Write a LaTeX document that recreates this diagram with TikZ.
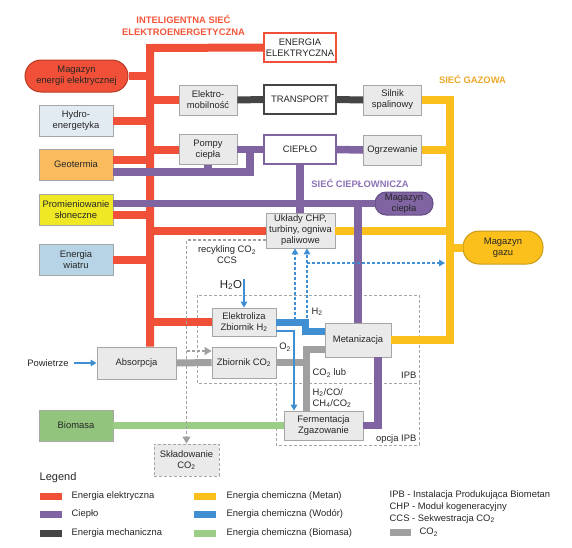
\documentclass[tikz,border=0pt]{standalone}
\usepackage{fontspec}
\setmainfont{Liberation Sans}
\usepackage{xcolor}
\usetikzlibrary{arrows.meta, positioning}

\definecolor{colEl}{HTML}{F05037}
\definecolor{colElD}{HTML}{B43A24}
\definecolor{colHeat}{HTML}{8064A2}
\definecolor{colHeatD}{HTML}{654D85}
\definecolor{colMech}{HTML}{454545}
\definecolor{colGas}{HTML}{FCC01D}
\definecolor{colGasD}{HTML}{C99A1A}
\definecolor{colHy}{HTML}{3F8FD2}
\definecolor{colBio}{HTML}{9CCD87}
\definecolor{colCO}{HTML}{A0A0A0}
\definecolor{colBox}{HTML}{EAEAEA}
\definecolor{colBoxLine}{HTML}{A6A6A6}
\definecolor{colHydro}{HTML}{E2EAF2}
\definecolor{colGeo}{HTML}{F9BB5E}
\definecolor{colSol}{HTML}{EEE825}
\definecolor{colWind}{HTML}{B7D4E6}
\definecolor{colBiomass}{HTML}{93C47D}
\definecolor{colTitle}{HTML}{F2563A}
\definecolor{colGasT}{HTML}{EBA82C}
\definecolor{colHeatT}{HTML}{8C72B5}

\begin{document}
\begin{tikzpicture}[
  x=1pt, y=-1pt,
  every node/.style={font=\fontsize{9.4}{11}\selectfont, text=black!85, inner sep=0.5pt, align=center},
  box/.style={draw=colBoxLine, fill=colBox, line width=0.8pt, minimum width=58pt, minimum height=30pt},
  src/.style={box, minimum width=74pt, minimum height=31pt},
  hub/.style={fill=white, line width=1.8pt, minimum width=72pt, minimum height=29pt},
  store/.style={line width=1pt, rounded corners=11pt, inner sep=0pt},
  net/.style={font=\fontsize{9.4}{12}\selectfont\bfseries},
  elec/.style={draw=colEl, line width=8pt},
  heat/.style={draw=colHeat, line width=7.5pt},
  mech/.style={draw=colMech, line width=7pt},
  gas/.style={draw=colGas, line width=8pt},
  hydro/.style={draw=colHy, line width=7pt},
  biom/.style={draw=colBio, line width=7pt},
  carb/.style={draw=colCO, line width=7pt},
  hyarr/.style={draw=colHy, line width=1.8pt, -{Triangle[length=6pt,width=6.5pt]}},
  hydash/.style={hyarr, dash pattern=on 3pt off 2pt},
  carbdash/.style={draw=colCO, line width=1.3pt, dash pattern=on 3pt off 2pt, -{Triangle[length=7pt,width=8pt]}},
  frame/.style={draw=colBoxLine, line width=0.8pt, dash pattern=on 3pt off 2pt}
]
\useasboundingbox (0,0) rectangle (572,547);

\draw[frame] (197,295) rectangle (419,383);
\draw[frame] (276,383) -- (276,445) -- (419,445) -- (419,383);

\node[hub, draw=colEl] (eel) at (300,47.5) {ENERGIA\\ELEKTRYCZNA};
\node[hub, draw=colMech] (trans) at (300,99.5) {TRANSPORT};
\node[hub, draw=colHeat] (ciep) at (300,149.5) {CIEPŁO};
\node[store, fill=colEl, draw=colElD, rounded corners=16pt, minimum width=103pt, minimum height=32pt] (mee) at (76.5,76) {Magazyn\\energii elektrycznej};
\node[src, fill=colHydro] (hyd) at (76,121) {Hydro-\\energetyka};
\node[src, fill=colGeo] (geo) at (76,164.5) {Geotermia};
\node[src, fill=colSol] (slon) at (76,209.5) {Promieniowanie\\słoneczne};
\node[src, fill=colWind] (wiatr) at (76,259.5) {Energia\\wiatru};
\node[src, fill=colBiomass] (bio) at (76,425.5) {Biomasa};
\node[box] (emob) at (208,100) {Elektro-\\mobilność};
\node[box] (pompy) at (208,149.5) {Pompy\\ciepła};
\node[box] (silnik) at (392.5,100) {Silnik\\spalinowy};
\node[box] (ogrz) at (392.5,150) {Ogrzewanie};
\node[box, minimum width=69pt, minimum height=35pt] (chp) at (300.5,230.5) {Układy CHP,\\turbiny, ogniwa\\paliwowe};
\node[store, fill=colHeat, draw=colHeatD, minimum width=58pt, minimum height=23pt] (mcie) at (404,203.5) {Magazyn\\ciepła};
\node[store, fill=colGas, draw=colGasD, rounded corners=16pt, minimum width=80pt, minimum height=33pt] (mgaz) at (503,247.5) {Magazyn\\gazu};
\node[box, minimum width=64pt, minimum height=28pt] (elek) at (244,322) {Elektroliza\\Zbiornik H\textsubscript{2}};
\node[box, minimum width=64pt, minimum height=31pt] (zco) at (244,362.5) {Zbiornik CO\textsubscript{2}};
\node[box, minimum width=79pt, minimum height=32pt] (absor) at (136.5,363) {Absorpcja};
\node[box, minimum width=66pt, minimum height=34pt] (metan) at (358,340) {Metanizacja};
\node[box, minimum width=79pt, minimum height=29pt] (ferm) at (323.5,425.5) {Fermentacja\\Zgazowanie};
\node[box, dash pattern=on 3pt off 2pt, minimum width=65pt, minimum height=32pt] (skl) at (186.5,460) {Składowanie\\CO\textsubscript{2}};

\node[net, text=colTitle] (tel) at (183.5,25) {INTELIGENTNA SIEĆ\\ELEKTROENERGETYCZNA};
\node[net, text=colGasT] (tgaz) at (472.5,79) {SIEĆ GAZOWA};
\node[net, text=colHeatT] (tcie) at (360,183) {SIEĆ CIEPŁOWNICZA};
\node (rec) at (227,255) {recykling CO\textsubscript{2}\\CCS};
\node[font=\fontsize{11.5}{13}\selectfont] (h2o) at (231,285) {H\textsubscript{2}O};
\node (lh2) at (317,312) {H\textsubscript{2}};
\node (lo2) at (285,347) {O\textsubscript{2}};
\node[anchor=west] (lco) at (312,373) {CO\textsubscript{2} lub};
\node[anchor=west, align=left] (lmix) at (312,398) {H\textsubscript{2}/CO/\\CH\textsubscript{4}/CO\textsubscript{2}};
\node[anchor=east] (lipb) at (417,375) {IPB};
\node[anchor=east] (lopc) at (417,439) {opcja IPB};
\node (pow) at (48,363) {Powietrze};

\coordinate (rtop) at (150,48);
\coordinate (ytop) at (450,100);
\coordinate (hj) at (250,172);
\coordinate (gj) at (306,349);
\coordinate (hb1) at (305,322);
\coordinate (hb2) at (305,331);
\coordinate (hd1) at (295,320);
\coordinate (hd2) at (307,318);
\coordinate (hd3) at (307,263);

\draw[elec] (eel.west) -- (rtop) -- (rtop |- absor.north);
\draw[elec] (mee.east) -- (mee.east -| rtop);
\draw[elec] (hyd.east) -- (hyd.east -| rtop);
\draw[elec] (emob.west) -- (emob.west -| rtop);
\draw[elec] (pompy.west) -- (pompy.west -| rtop);
\draw[elec] ([yshift=4.5pt]geo.east) -- ([yshift=4.5pt]geo.east -| rtop);
\draw[elec] ([yshift=-5.5pt]slon.east) -- ([yshift=-5.5pt]slon.east -| rtop);
\draw[elec] (wiatr.east) -- (wiatr.east -| rtop);
\draw[elec] (chp.west -| rtop) -- (chp.west);
\draw[elec] (elek.west -| rtop) -- (elek.west);

\draw[mech] (emob.east) -- (trans.west);
\draw[mech] (trans.east) -- (silnik.west);

\draw[gas] (silnik.east) -- (ytop) -- (ytop |- metan.east) -- (metan.east);
\draw[gas] (ogrz.east) -- (ogrz.east -| ytop);
\draw[gas] (chp.east) -- (chp.east -| ytop);
\draw[gas] (mgaz.west) -- (mgaz.west -| ytop);

\draw[heat] (ciep.east) -- (ogrz.west);
\draw[heat] (pompy.east) -- (ciep.west);
\draw[heat] ([yshift=-7.5pt]geo.east) -- (hj) -- (hj |- ciep.west);
\draw[heat] (pompy.south) -- (pompy.south |- hj);
\draw[heat] ([yshift=6pt]slon.east) -- (mcie.west);
\draw[heat] (ciep.south) -- (ciep.south |- chp.north);
\draw[heat] (metan.north |- mcie.west) -- (metan.north);
\draw[heat] ([xshift=20pt]metan.south) |- (ferm.east);

\draw[biom] (bio.east) -- (ferm.west);

\draw[carb] (absor.east) -- (zco.west);
\draw[carb] (zco.east) -- (zco.east -| gj);
\draw[carb] (ferm.north -| gj) -- (gj) -- (gj -| metan.west);

\draw[hydro] (elek.east) -- (hb1) -- (hb2) -- (hb2 -| metan.west);
\draw[hyarr] ([yshift=-9pt]elek.east) -| ([xshift=-29.5pt]ferm.north);
\draw[hydash] (hd1) -- (hd1 |- chp.south);
\draw[hydash] (hd2) -- (hd2 |- chp.south);
\draw[hydash] (hd3) -- ([xshift=-5pt]hd3 -| ytop);
\draw[hyarr] (pow.east) ++(5pt,0) -- (absor.west);
\draw[hyarr] (elek.north |- h2o.north) -- (elek.north);

\draw[carbdash] ([yshift=-9.5pt]chp.west) -| (skl.north);
\draw[carbdash] ([yshift=11.5pt]zco.west -| skl.north) -- ([yshift=11.5pt]zco.west);

\node[anchor=west, font=\fontsize{11}{13}\selectfont] (leg) at (39,478) {Legend};
\fill[colEl] (40,492.5) rectangle (62,499.5);
\fill[colHeat] (40,510.5) rectangle (62,517.5);
\fill[colMech] (40,529.5) rectangle (62,536.5);
\fill[colGas] (194,492.5) rectangle (216,499.5);
\fill[colHy] (194,510.5) rectangle (216,517.5);
\fill[colBio] (194,529.5) rectangle (216,536.5);
\fill[colCO] (390,528.5) rectangle (411,535.5);
\node[anchor=west] (le1) at (71,496) {Energia elektryczna};
\node[anchor=west] (le2) at (71,514) {Ciepło};
\node[anchor=west] (le3) at (71,533) {Energia mechaniczna};
\node[anchor=west] (le4) at (226,496) {Energia chemiczna (Metan)};
\node[anchor=west] (le5) at (226,514) {Energia chemiczna (Wodór)};
\node[anchor=west] (le6) at (226,533) {Energia chemiczna (Biomasa)};
\node[anchor=west] (le7) at (389,495) {IPB - Instalacja Produkująca Biometan};
\node[anchor=west] (le8) at (389,507) {CHP - Moduł kogeneracyjny};
\node[anchor=west] (le9) at (389,519) {CCS - Sekwestracja CO\textsubscript{2}};
\node[anchor=west] (le10) at (419,532) {CO\textsubscript{2}};
\end{tikzpicture}
\end{document}
